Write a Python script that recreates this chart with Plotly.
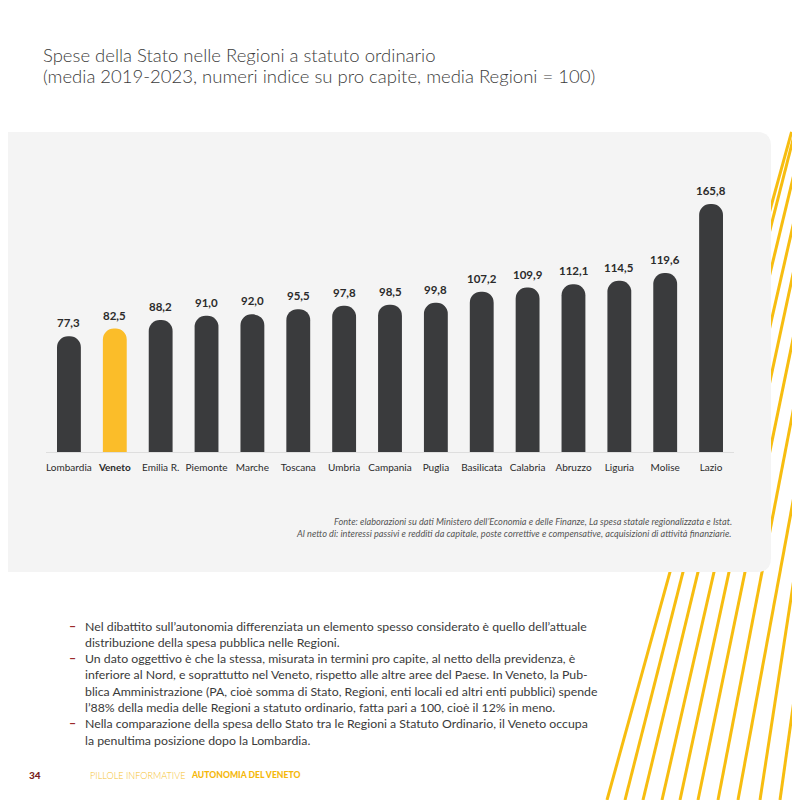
import plotly.graph_objects as go

# %%
regioni = ["Lombardia", "Veneto", "Emilia R.", "Piemonte", "Marche", "Toscana", "Umbria",
           "Campania", "Puglia", "Basilicata", "Calabria", "Abruzzo", "Liguria", "Molise", "Lazio"]
valori = [77.3, 82.5, 88.2, 91.0, 92.0, 95.5, 97.8, 98.5, 99.8, 107.2, 109.9, 112.1, 114.5, 119.6, 165.8]
evidenziata = "Veneto"

titolo = ["Spese della Stato nelle Regioni a statuto ordinario",
          "(media 2019-2023, numeri indice su pro capite, media Regioni = 100)"]
fonte = ["Fonte: elaborazioni su dati Ministero dell\u2019Economia e delle Finanze, La spesa statale regionalizzata e Istat.",
         "Al netto di: interessi passivi e redditi da capitale, poste correttive e compensative, acquisizioni di attivit\u00e0 finanziarie."]
testo = [
    ("\u2013", "Nel dibattito sull\u2019autonomia differenziata un elemento spesso considerato \u00e8 quello dell\u2019attuale"),
    ("", "distribuzione della spesa pubblica nelle Regioni."),
    ("\u2013", "Un dato oggettivo \u00e8 che la stessa, misurata in termini pro capite, al netto della previdenza, \u00e8"),
    ("", "inferiore al Nord, e soprattutto nel Veneto, rispetto alle altre aree del Paese. In Veneto, la Pub-"),
    ("", "blica Amministrazione (PA, cio\u00e8 somma di Stato, Regioni, enti locali ed altri enti pubblici) spende"),
    ("", "l\u201988% della media delle Regioni a statuto ordinario, fatta pari a 100, cio\u00e8 il 12% in meno."),
    ("\u2013", "Nella comparazione della spesa dello Stato tra le Regioni a Statuto Ordinario, il Veneto occupa"),
    ("", "la penultima posizione dopo la Lombardia."),
]

# righe gialle decorative (x in px a y=800 e a y=572)
righe_x800 = [607, 625, 643, 662, 680, 698, 718, 738, 760, 780, 800]
righe_x572 = [670, 683, 698, 714, 729, 745, 762, 780, 795, 812, 828]

FONT = "Lato"
GRIGIO = "#3a3b3d"
GIALLO = "#fbbd29"
OFF = 8          # margine del body html
W = H = 800 - OFF


def px(x):
    return (x - OFF) / W


def py(y):
    return 1 - (y - OFF) / H


colori = [GIALLO if r == evidenziata else GRIGIO for r in regioni]
ticktext = ["<b>%s</b>" % r if r == evidenziata else r for r in regioni]

fig = go.Figure()
fig.add_trace(go.Bar(
    x=regioni, y=valori,
    marker=dict(color=colori, cornerradius="50%", line_width=0),
    hoverinfo="skip",
))

shapes = []
for xb, xm in zip(righe_x800, righe_x572):
    k = (xm - xb) / (800 - 572)
    xt = xb + k * (800 - 132)
    shapes.append(dict(type="line", xref="paper", yref="paper", layer="below",
                       x0=px(xb), y0=py(800), x1=px(xt), y1=py(132),
                       line=dict(color="#f7bd10", width=3)))
# pannello grigio con angoli destri arrotondati
r = 14
x1p, y0p, y1p = 771, 132, 572
path = ("M {l},{t} L {a},{t} Q {b},{t} {b},{t2} L {b},{u2} Q {b},{u} {a},{u} L {l},{u} Z"
        .format(l=px(0), t=py(y0p), a=px(x1p - r), b=px(x1p), t2=py(y0p + r), u2=py(y1p - r), u=py(y1p)))
shapes.append(dict(type="path", xref="paper", yref="paper", layer="below", path=path,
                   fillcolor="#f4f4f4", line_width=0))

ann = []
for reg, v in zip(regioni, valori):
    ann.append(dict(text="<b>%s</b>" % f"{v:.1f}".replace(".", ","), x=reg, y=v, xref="x", yref="y",
                    xanchor="center", yanchor="bottom", yshift=5,
                    font=dict(family=FONT, size=11.5, color="#2b2b2b")))
for i, t in enumerate(titolo):
    ann.append(dict(text=t, x=px(41), y=py(55 + 21 * i), xanchor="left", yanchor="middle",
                    font=dict(family=FONT, size=18.5, color="#3c3c3c", weight=300)))
for i, t in enumerate(fonte):
    ann.append(dict(text="<i>%s</i>" % t, x=px(734), y=py(521 + 12 * i), xanchor="right", yanchor="middle",
                    font=dict(family=FONT, size=9.2, color="#555555")))
for i, (b, t) in enumerate(testo):
    yy = py(626 + 16.3 * i)
    if b:
        ann.append(dict(text=b, x=px(67), y=yy, xanchor="left", yanchor="middle",
                        font=dict(family=FONT, size=12.3, color="#9b2a2a", weight="bold")))
    ann.append(dict(text=t, x=px(83), y=yy, xanchor="left", yanchor="middle",
                    font=dict(family=FONT, size=12.3, color="#3a3a3a")))
ann.append(dict(text="34", x=px(27), y=py(775), xanchor="left", yanchor="middle",
                font=dict(family=FONT, size=10, color="#7a1e1e", weight=900)))
ann.append(dict(text="PILLOLE INFORMATIVE", x=px(88), y=py(775), xanchor="left", yanchor="middle",
                font=dict(family=FONT, size=9.1, color="#f5c12e", weight=300)))
ann.append(dict(text="AUTONOMIA DEL VENETO", x=px(189), y=py(775), xanchor="left", yanchor="middle",
                font=dict(family=FONT, size=8.6, color="#f5b80c", weight=900)))
for a in ann:
    a.setdefault("xref", "paper")
    a.setdefault("yref", "paper")
    a["showarrow"] = False

fig.update_layout(
    width=W, height=H, margin=dict(l=0, r=0, t=0, b=0),
    paper_bgcolor="white", plot_bgcolor="rgba(0,0,0,0)",
    separators=",.", showlegend=False, bargap=0.48,
    shapes=shapes, annotations=ann,
    font=dict(family=FONT),
)
fig.update_xaxes(domain=[px(46), px(734)], showline=True, linecolor="#dedede", linewidth=1,
                 showgrid=False, ticks="", tickvals=regioni, ticktext=ticktext,
                 tickfont=dict(family=FONT, size=10, color="#2b2b2b"), ticklabelstandoff=6,
                 fixedrange=True)
fig.update_yaxes(domain=[py(452), py(180)], range=[0, 272 / 1.496], visible=False,
                 showgrid=False, zeroline=False, fixedrange=True)

fig.write_html("out.html")
